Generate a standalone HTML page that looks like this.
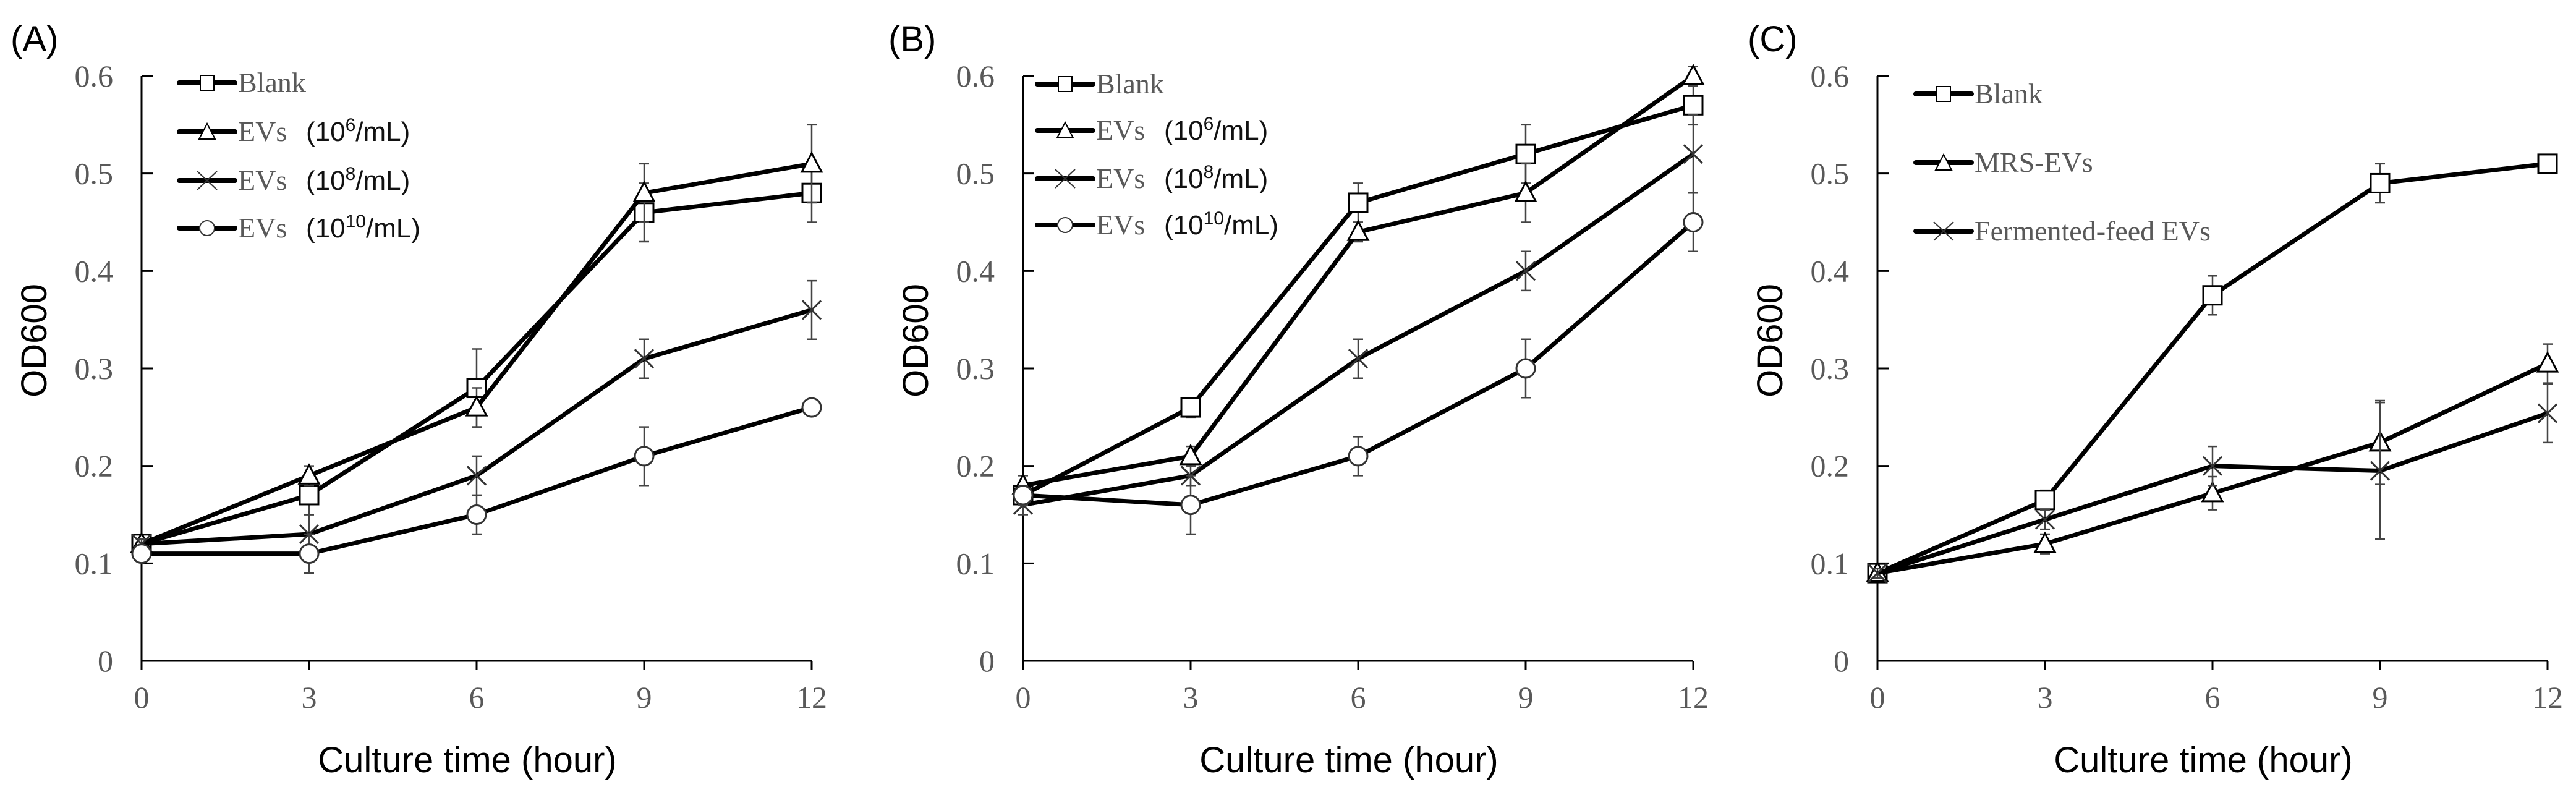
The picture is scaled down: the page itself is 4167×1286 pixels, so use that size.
<!DOCTYPE html>
<html><head><meta charset="utf-8"><style>
html,body{margin:0;padding:0;background:#fff;}
svg{display:block;}
.tick{font-family:"Liberation Serif",serif;font-size:50px;fill:#595959;}
.leg{font-family:"Liberation Serif",serif;font-size:46px;fill:#595959;}
.legs{font-family:"Liberation Sans",sans-serif;font-size:44px;fill:#111;}
.title{font-family:"Liberation Sans",sans-serif;font-size:58px;fill:#000;}
</style></head><body>
<svg id="fig" width="4167" height="1286" viewBox="0 0 4167 1286" xmlns="http://www.w3.org/2000/svg"></svg>
<script>
const xCats=[0,3,6,9,12];
const yTicks=[0,0.1,0.2,0.3,0.4,0.5,0.6];
const yTickLabels=["0","0.1","0.2","0.3","0.4","0.5","0.6"];
const aBlank=[0.12,0.17,0.28,0.46,0.48], aBlankErr=[0.005,0.02,0.04,0.03,0.03];
const aEv6=[0.12,0.19,0.26,0.48,0.51], aEv6Err=[0.005,0.01,0.02,0.03,0.04];
const aEv8=[0.12,0.13,0.19,0.31,0.36], aEv8Err=[0.005,0.02,0.02,0.02,0.03];
const aEv10=[0.11,0.11,0.15,0.21,0.26], aEv10Err=[0.005,0.02,0.02,0.03,0.005];
const bBlank=[0.17,0.26,0.47,0.52,0.57], bBlankErr=[0.005,0.01,0.02,0.03,0.02];
const bEv6=[0.18,0.21,0.44,0.48,0.60], bEv6Err=[0.01,0.01,0.01,0.03,0.01];
const bEv8=[0.16,0.19,0.31,0.40,0.52], bEv8Err=[0.01,0.01,0.02,0.02,0.04];
const bEv10=[0.17,0.16,0.21,0.30,0.45], bEv10Err=[0.01,0.03,0.02,0.03,0.03];
const cBlank=[0.09,0.165,0.375,0.49,0.51], cBlankErr=[0.005,0.01,0.02,0.02,0.005];
const cMrs=[0.09,0.12,0.172,0.224,0.305], cMrsErr=[0.005,0.01,0.017,0.043,0.02];
const cFerm=[0.09,0.145,0.20,0.195,0.254], cFermErr=[0.005,0.01,0.02,0.07,0.03];

const NS="http://www.w3.org/2000/svg";
const svg=document.getElementById('fig');
function mk(tag,attrs,parent){const e=document.createElementNS(NS,tag);for(const k in attrs)e.setAttribute(k,attrs[k]);(parent||svg).appendChild(e);return e;}

const Y0=1069,Y6=123;
function yS(v){return Y0+(Y6-Y0)*v/0.6;}

function marker(g,type,x,y){
  let m;
  if(type==='sq'){m=mk('rect',{x:x-15,y:y-15,width:30,height:30,fill:'#fff',stroke:'#000','stroke-width':3},g);}
  else if(type==='tri'){m=mk('polygon',{points:`${x},${y-17} ${x+16},${y+13} ${x-16},${y+13}`,fill:'#fff',stroke:'#000','stroke-width':3},g);}
  else if(type==='x'){m=mk('path',{d:`M${x-15},${y-15}L${x+15},${y+15}M${x-15},${y+15}L${x+15},${y-15}`,stroke:'#333','stroke-width':3,fill:'none'},g);}
  else {m=mk('circle',{cx:x,cy:y,r:15,fill:'#fff',stroke:'#333','stroke-width':3},g);}
  
  
  return m;
}

function panel(cfg){
  const X0=cfg.x0, W=1084;
  const xS=v=>X0+W*v/12;
  const g=mk('g',{});
  
  
  const pl=mk('text',{x:cfg.lx,y:83,class:'title','font-size':60},g);pl.textContent=cfg.label;
  
  const ya=mk('line',{x1:X0,y1:Y6,x2:X0,y2:Y0,stroke:'#000','stroke-width':3},g);
  
  const xa=mk('line',{x1:X0,y1:Y0,x2:X0+W,y2:Y0,stroke:'#000','stroke-width':3},g);
  
  yTicks.forEach((v,i)=>{
    const y=yS(v);
    mk('line',{x1:X0,y1:y,x2:X0+18,y2:y,stroke:'#000','stroke-width':3},g);
    const t=mk('text',{x:X0-46,y:y+17,class:'tick','text-anchor':'end'},g);t.textContent=yTickLabels[i];
    
  });
  xCats.forEach(v=>{
    const x=xS(v);
    mk('line',{x1:x,y1:Y0,x2:x,y2:Y0+14,stroke:'#000','stroke-width':3},g);
    const t=mk('text',{x:x,y:1145,class:'tick','text-anchor':'middle'},g);t.textContent=String(v);
    
  });
  const yt=mk('text',{x:0,y:0,class:'title','text-anchor':'middle',transform:`translate(${cfg.ytx},551) rotate(-90)`},g);
  yt.textContent='OD600';
  
  const xt=mk('text',{x:X0+W/2-15,y:1249,class:'title','text-anchor':'middle'},g);
  xt.textContent='Culture time (hour)';
  
  cfg.series.forEach(s=>{
    const sg=mk('g',{},g);
    
    
    s.vals.forEach((v,i)=>{
      const x=xS(xCats[i]),e=s.err[i];
      const eb=mk('path',{d:`M${x},${yS(v-e)}L${x},${yS(v+e)}M${x-8},${yS(v-e)}L${x+8},${yS(v-e)}M${x-8},${yS(v+e)}L${x+8},${yS(v+e)}`,stroke:'#444','stroke-width':2.5,fill:'none'},sg);
      
    });
    const pts=s.vals.map((v,i)=>xS(xCats[i])+','+yS(v)).join(' ');
    const pl=mk('polyline',{points:pts,fill:'none',stroke:'#000','stroke-width':7,'stroke-linejoin':'round'},sg);
    
    s.vals.forEach((v,i)=>marker(sg,s.m,xS(xCats[i]),yS(v)));
  });
  cfg.series.forEach((s,i)=>{
    const y=cfg.legY[i];
    const lg=mk('g',{},g);
    
    
    mk('line',{x1:cfg.legX,y1:y,x2:cfg.legX+90,y2:y,stroke:'#000','stroke-width':8,'stroke-linecap':'round'},lg);
    const mx=cfg.legX+45;
    if(s.m==='sq')mk('rect',{x:mx-11,y:y-12,width:22,height:24,fill:'#fff',stroke:'#000','stroke-width':2},lg);
    else if(s.m==='tri')mk('polygon',{points:`${mx},${y-13} ${mx+13},${y+12} ${mx-13},${y+12}`,fill:'#fff',stroke:'#000','stroke-width':2},lg);
    else if(s.m==='x')mk('path',{d:`M${mx-16},${y-15}L${mx+16},${y+15}M${mx-16},${y+15}L${mx+16},${y-15}`,stroke:'#333','stroke-width':2},lg);
    else mk('circle',{cx:mx,cy:y,r:12,fill:'#fff',stroke:'#333','stroke-width':2},lg);
    const t=mk('text',{x:cfg.legX+95,y:y+15,class:'leg'},lg);
    t.textContent=s.label;
    if(s.pow){
      const t2=mk('text',{x:cfg.legX+205,y:y+15,class:'legs'},lg);
      t2.appendChild(document.createTextNode('(10'));
      const sp=mk('tspan',{dy:-16,'font-size':30},t2);sp.textContent=s.pow;
      const sp2=mk('tspan',{dy:16},t2);sp2.textContent='/mL)';
    }
  });
}

panel({name:'panel-a',label:'(A)',lx:17,x0:229,ytx:75,legX:290,legY:[134,213,292,369],series:[
 {key:'blank',label:'Blank',m:'sq',vals:aBlank,err:aBlankErr},
 {key:'evs-1e6',label:'EVs',pow:'6',m:'tri',vals:aEv6,err:aEv6Err},
 {key:'evs-1e8',label:'EVs',pow:'8',m:'x',vals:aEv8,err:aEv8Err},
 {key:'evs-1e10',label:'EVs',pow:'10',m:'o',vals:aEv10,err:aEv10Err}]});
panel({name:'panel-b',label:'(B)',lx:1437,x0:1655,ytx:1501,legX:1678,legY:[136,211,289,364],series:[
 {key:'blank',label:'Blank',m:'sq',vals:bBlank,err:bBlankErr},
 {key:'evs-1e6',label:'EVs',pow:'6',m:'tri',vals:bEv6,err:bEv6Err},
 {key:'evs-1e8',label:'EVs',pow:'8',m:'x',vals:bEv8,err:bEv8Err},
 {key:'evs-1e10',label:'EVs',pow:'10',m:'o',vals:bEv10,err:bEv10Err}]});
panel({name:'panel-c',label:'(C)',lx:2827,x0:3037,ytx:2883,legX:3099,legY:[152,263,374],series:[
 {key:'blank',label:'Blank',m:'sq',vals:cBlank,err:cBlankErr},
 {key:'mrs-evs',label:'MRS-EVs',m:'tri',vals:cMrs,err:cMrsErr},
 {key:'fermented-feed-evs',label:'Fermented-feed EVs',m:'x',vals:cFerm,err:cFermErr}]});
</script>
</body></html>
